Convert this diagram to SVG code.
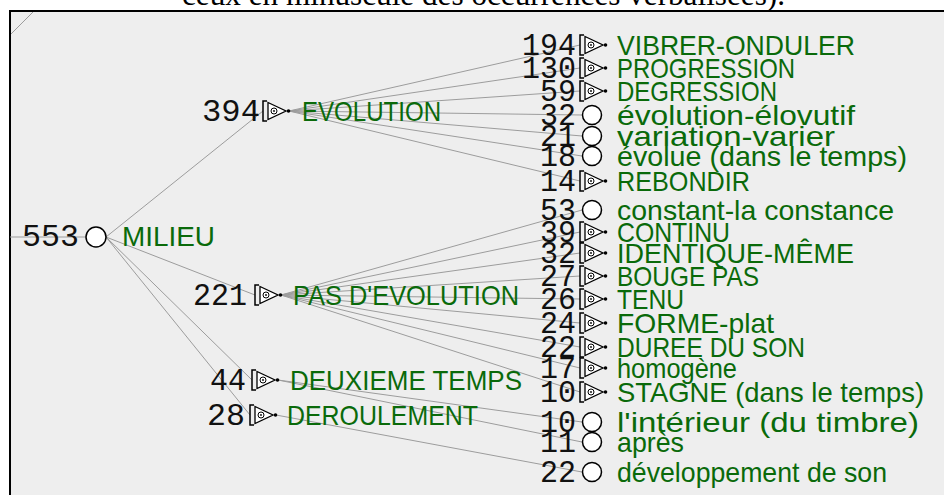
<svg xmlns="http://www.w3.org/2000/svg" width="944" height="495" viewBox="0 0 944 495">
<style>
.num{font-family:"Liberation Mono","DejaVu Sans Mono",monospace;font-size:32px;fill:#111;text-anchor:end}
.lbl{font-family:"Liberation Sans",Arial,sans-serif;font-size:28px;fill:#0a6a0a}
.edge{stroke:#9c9c9c;stroke-width:1;fill:none}
.ico{fill:#fff;stroke:#000;stroke-width:1.5}
.title{font-family:"Liberation Serif","Times New Roman",serif;font-size:31px;fill:#000}
</style>
<defs>
<g id="tri">
<path d="M4,-10 H0 V10 H4" fill="none" stroke="#000" stroke-width="1.5"/>
<path d="M5,-8.5 L23,0 L5,8.5 Z" fill="#fff" stroke="#000" stroke-width="1.3"/>
<circle cx="11" cy="0" r="3" fill="none" stroke="#000" stroke-width="1"/>
<circle cx="11" cy="0" r="0.9" fill="#000"/>
<circle cx="25.5" cy="0" r="1.8" fill="#000"/>
</g>
</defs>
<rect x="0" y="0" width="944" height="495" fill="#fff"/>
<rect x="10" y="11" width="944" height="495" fill="#eeeeee" stroke="#000" stroke-width="2"/>
<text class="title" x="182" y="5" textLength="603" lengthAdjust="spacingAndGlyphs">ceux en minuscule des occurrences verbalisées).</text>

<g id="connectors">
<path class="edge" d="M11,34 L33,12"/>
<path class="edge" d="M10,237 H86"/>
<path class="edge" d="M106,237 L263,111 M106,237 L255,295 M106,237 L252,380 M106,237 L250,415"/>
<path class="edge" d="M289,111 L580,45 M289,111 L580,68 M289,111 L580,91 M289,111 L582,115 M289,111 L582,136 M289,111 L582,156 M289,111 L580,181"/>
<path class="edge" d="M281,295 L582,210 M281,295 L580,232 M281,295 L580,253 M281,295 L580,276 M281,295 L580,299 M281,295 L580,323 M281,295 L580,347 M281,295 L580,368 M281,295 L580,392"/>
<path class="edge" d="M278,380 L582,422 M278,380 L582,442"/>
<path class="edge" d="M276,415 L582,472"/>
</g>

<g id="n-milieu">
<text class="num" x="79" y="246" textLength="57" lengthAdjust="spacingAndGlyphs">553</text>
<circle class="ico" cx="96" cy="237" r="10"/>
<text class="lbl" x="122" y="246" textLength="93" lengthAdjust="spacingAndGlyphs">MILIEU</text>
</g>
<g id="n-evolution">
<text class="num" x="260" y="121" textLength="58" lengthAdjust="spacingAndGlyphs">394</text>
<use href="#tri" x="263" y="111"/>
<text class="lbl" x="302" y="121" textLength="139" lengthAdjust="spacingAndGlyphs">EVOLUTION</text>
</g>
<g id="n-pas-evolution">
<text class="num" x="247" y="305" textLength="54" lengthAdjust="spacingAndGlyphs">221</text>
<use href="#tri" x="255" y="295"/>
<text class="lbl" x="293" y="305" textLength="226" lengthAdjust="spacingAndGlyphs">PAS D'EVOLUTION</text>
</g>
<g id="n-deuxieme-temps">
<text class="num" x="246" y="390" textLength="36" lengthAdjust="spacingAndGlyphs">44</text>
<use href="#tri" x="252" y="380"/>
<text class="lbl" x="290" y="390" textLength="232" lengthAdjust="spacingAndGlyphs">DEUXIEME TEMPS</text>
</g>
<g id="n-deroulement">
<text class="num" x="245" y="425" textLength="38" lengthAdjust="spacingAndGlyphs">28</text>
<use href="#tri" x="250" y="415"/>
<text class="lbl" x="287" y="425" textLength="191" lengthAdjust="spacingAndGlyphs">DEROULEMENT</text>
</g>

<g id="n-vibrer">
<text class="num" x="576" y="55" textLength="54" lengthAdjust="spacingAndGlyphs">194</text>
<use href="#tri" x="580" y="45"/>
<text class="lbl" x="617" y="55" textLength="238" lengthAdjust="spacingAndGlyphs">VIBRER-ONDULER</text>
</g>
<g id="n-progression">
<text class="num" x="576" y="78" textLength="54" lengthAdjust="spacingAndGlyphs">130</text>
<use href="#tri" x="580" y="68"/>
<text class="lbl" x="617" y="78" textLength="178" lengthAdjust="spacingAndGlyphs">PROGRESSION</text>
</g>
<g id="n-degression">
<text class="num" x="576" y="101" textLength="36" lengthAdjust="spacingAndGlyphs">59</text>
<use href="#tri" x="580" y="91"/>
<text class="lbl" x="617" y="101" textLength="160" lengthAdjust="spacingAndGlyphs">DEGRESSION</text>
</g>
<g id="n-evolution-elovutif">
<text class="num" x="576" y="125" textLength="36" lengthAdjust="spacingAndGlyphs">32</text>
<circle class="ico" cx="592" cy="115" r="9.5"/>
<text class="lbl" x="617" y="125" textLength="238" lengthAdjust="spacingAndGlyphs">évolution-élovutif</text>
</g>
<g id="n-variation">
<text class="num" x="576" y="146" textLength="36" lengthAdjust="spacingAndGlyphs">21</text>
<circle class="ico" cx="592" cy="136" r="9.5"/>
<text class="lbl" x="617" y="146" textLength="218" lengthAdjust="spacingAndGlyphs">variation-varier</text>
</g>
<g id="n-evolue">
<text class="num" x="576" y="166" textLength="36" lengthAdjust="spacingAndGlyphs">18</text>
<circle class="ico" cx="592" cy="156" r="9.5"/>
<text class="lbl" x="617" y="166" textLength="290" lengthAdjust="spacingAndGlyphs">évolue (dans le temps)</text>
</g>
<g id="n-rebondir">
<text class="num" x="576" y="191" textLength="36" lengthAdjust="spacingAndGlyphs">14</text>
<use href="#tri" x="580" y="181"/>
<text class="lbl" x="617" y="191" textLength="133" lengthAdjust="spacingAndGlyphs">REBONDIR</text>
</g>
<g id="n-constant">
<text class="num" x="576" y="220" textLength="36" lengthAdjust="spacingAndGlyphs">53</text>
<circle class="ico" cx="592" cy="210" r="9.5"/>
<text class="lbl" x="617" y="220" textLength="277" lengthAdjust="spacingAndGlyphs">constant-la constance</text>
</g>
<g id="n-continu">
<text class="num" x="576" y="242" textLength="36" lengthAdjust="spacingAndGlyphs">39</text>
<use href="#tri" x="580" y="232"/>
<text class="lbl" x="617" y="242" textLength="113" lengthAdjust="spacingAndGlyphs">CONTINU</text>
</g>
<g id="n-identique">
<text class="num" x="576" y="263" textLength="36" lengthAdjust="spacingAndGlyphs">32</text>
<use href="#tri" x="580" y="253"/>
<text class="lbl" x="617" y="263" textLength="237" lengthAdjust="spacingAndGlyphs">IDENTIQUE-MÊME</text>
</g>
<g id="n-bouge-pas">
<text class="num" x="576" y="286" textLength="36" lengthAdjust="spacingAndGlyphs">27</text>
<use href="#tri" x="580" y="276"/>
<text class="lbl" x="617" y="286" textLength="142" lengthAdjust="spacingAndGlyphs">BOUGE PAS</text>
</g>
<g id="n-tenu">
<text class="num" x="576" y="309" textLength="36" lengthAdjust="spacingAndGlyphs">26</text>
<use href="#tri" x="580" y="299"/>
<text class="lbl" x="617" y="309" textLength="67" lengthAdjust="spacingAndGlyphs">TENU</text>
</g>
<g id="n-forme-plat">
<text class="num" x="576" y="333" textLength="36" lengthAdjust="spacingAndGlyphs">24</text>
<use href="#tri" x="580" y="323"/>
<text class="lbl" x="617" y="333" textLength="157" lengthAdjust="spacingAndGlyphs">FORME-plat</text>
</g>
<g id="n-duree">
<text class="num" x="576" y="357" textLength="36" lengthAdjust="spacingAndGlyphs">22</text>
<use href="#tri" x="580" y="347"/>
<text class="lbl" x="617" y="357" textLength="188" lengthAdjust="spacingAndGlyphs">DUREE DU SON</text>
</g>
<g id="n-homogene">
<text class="num" x="576" y="378" textLength="36" lengthAdjust="spacingAndGlyphs">17</text>
<use href="#tri" x="580" y="368"/>
<text class="lbl" x="617" y="378" textLength="120" lengthAdjust="spacingAndGlyphs">homogène</text>
</g>
<g id="n-stagne">
<text class="num" x="576" y="402" textLength="36" lengthAdjust="spacingAndGlyphs">10</text>
<use href="#tri" x="580" y="392"/>
<text class="lbl" x="617" y="402" textLength="307" lengthAdjust="spacingAndGlyphs">STAGNE (dans le temps)</text>
</g>
<g id="n-interieur">
<text class="num" x="576" y="432" textLength="36" lengthAdjust="spacingAndGlyphs">10</text>
<circle class="ico" cx="592" cy="422" r="9.5"/>
<text class="lbl" x="617" y="432" textLength="302" lengthAdjust="spacingAndGlyphs">l'intérieur (du timbre)</text>
</g>
<g id="n-apres">
<text class="num" x="576" y="452" textLength="36" lengthAdjust="spacingAndGlyphs">11</text>
<circle class="ico" cx="592" cy="442" r="9.5"/>
<text class="lbl" x="617" y="452" textLength="67" lengthAdjust="spacingAndGlyphs">après</text>
</g>
<g id="n-developpement">
<text class="num" x="576" y="482" textLength="36" lengthAdjust="spacingAndGlyphs">22</text>
<circle class="ico" cx="592" cy="472" r="9.5"/>
<text class="lbl" x="617" y="482" textLength="270" lengthAdjust="spacingAndGlyphs">développement de son</text>
</g>
</svg>
